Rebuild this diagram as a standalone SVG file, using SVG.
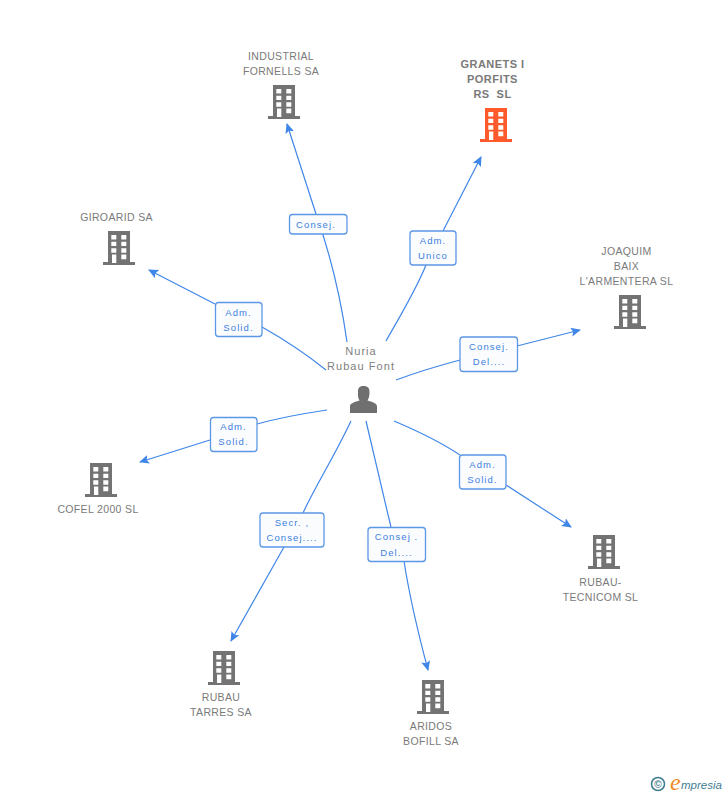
<svg xmlns="http://www.w3.org/2000/svg" xmlns:xlink="http://www.w3.org/1999/xlink" width="728" height="795" viewBox="0 0 728 795">
<style>
text{font-family:"Liberation Sans",Arial,sans-serif}
.n{font-size:10.5px;fill:#7a7a7a;text-anchor:middle;letter-spacing:.35px}
.p{font-size:11px;letter-spacing:1.05px;fill:#808080}
.b{font-weight:bold;font-size:11px;letter-spacing:.45px}
.c{fill:none;stroke:#3f86e8;stroke-width:1.2}
.l{fill:#fbfcfe;stroke:#5c97e6;stroke-width:1.3}
.t{font-size:9.5px;fill:#3c7fe0;text-anchor:middle;letter-spacing:1.1px}
</style>
<defs>
<marker id="ah" markerUnits="userSpaceOnUse" markerWidth="12" markerHeight="10" refX="9" refY="4.5" orient="auto"><path d="M0 0L10 4.5L0 9L2 4.5Z" fill="#3f86e8"/></marker>
<symbol id="bld" width="32" height="34" viewBox="0 0 32 34" overflow="visible">
<path fill="currentColor" fill-rule="evenodd" d="M5 0H27V31H32V34H0V31H5ZM8.300 4V8.500H13.300V4ZM18.300 4V8.500H23.300V4ZM8.300 10.700V15H13.300V10.700ZM18.300 10.700V15H23.300V10.700ZM8.300 17.300V21.700H13.300V17.300ZM18.300 17.300V21.700H23.300V17.300ZM9 23.500V32H13.300V23.500ZM18.300 23.500V28.300H23.300V23.500Z"/>
</symbol>
</defs>
<rect width="728" height="795" fill="#fff"/>
<g id="connectors">
<path class="c" marker-end="url(#ah)" d="M347 342C339 285 327 245 316 214M316 214L287 124"/>
<path class="c" marker-end="url(#ah)" d="M386 341C400 316 415 292 426 265M443 231L481 157"/>
<path class="c" marker-end="url(#ah)" d="M396 380C420 371 445 364 460 360M517 346L580 330"/>
<path class="c" marker-end="url(#ah)" d="M326 370C305 353 285 340 262 327M215 304L149 270"/>
<path class="c" marker-end="url(#ah)" d="M327 410C300 414 275 419 257 424M210 440L140 462"/>
<path class="c" marker-end="url(#ah)" d="M394 421C420 432 445 445 460 455M506 485L571 527"/>
<path class="c" marker-end="url(#ah)" d="M351 421C335 455 315 487 303 513M284 547L231 641"/>
<path class="c" marker-end="url(#ah)" d="M366 421C373 450 382 490 391 527M404 561C410 600 420 640 428 670"/>
</g>
<g id="center"><text class="n p" x="361" y="355">Nuria</text><text class="n p" x="361" y="370">Rubau Font</text>
<path fill="#6f6f6f" d="M350 413V406.500C350 403.500 353 402.500 359.500 400.500C357.500 397.500 358 394 358 391.500C358 387.500 360 386 363.500 386C367 386 369.500 387.500 369.500 391.500C369.500 394 369.500 397.500 367.500 400.500C374 402.500 377 403.500 377 406.500V413Z"/></g>
<g id="n1" color="#737373"><text class="n" x="281" y="60">INDUSTRIAL</text><text class="n" x="281" y="75">FORNELLS SA</text><use xlink:href="#bld" href="#bld" x="268" y="85"/></g>
<g id="n2" color="#ff5a2c"><text class="n b" x="492.500" y="68">GRANETS I</text><text class="n b" x="492.500" y="83">PORFITS</text><text class="n b" x="492.500" y="98" xml:space="preserve" style="white-space:pre">RS  SL</text><use xlink:href="#bld" href="#bld" x="480" y="108"/></g>
<g id="n3" color="#737373"><text class="n" x="116.500" y="221">GIROARID SA</text><use xlink:href="#bld" href="#bld" x="103" y="231"/></g>
<g id="n4" color="#737373"><text class="n" x="626.500" y="255">JOAQUIM</text><text class="n" x="626.500" y="270">BAIX</text><text class="n" x="626.500" y="285">L'ARMENTERA SL</text><use xlink:href="#bld" href="#bld" x="614" y="295"/></g>
<g id="n5" color="#737373"><text class="n" x="98" y="513">COFEL 2000 SL</text><use xlink:href="#bld" href="#bld" x="85" y="463"/></g>
<g id="n6" color="#737373"><text class="n" x="600.500" y="586">RUBAU-</text><text class="n" x="600.500" y="601">TECNICOM SL</text><use xlink:href="#bld" href="#bld" x="588" y="535"/></g>
<g id="n7" color="#737373"><text class="n" x="221" y="701">RUBAU</text><text class="n" x="221" y="716">TARRES SA</text><use xlink:href="#bld" href="#bld" x="208" y="651"/></g>
<g id="n8" color="#737373"><text class="n" x="431" y="730">ARIDOS</text><text class="n" x="431" y="745">BOFILL SA</text><use xlink:href="#bld" href="#bld" x="417" y="680"/></g>
<g id="labels">
<g><rect class="l" x="289.500" y="214.500" width="57.500" height="19.500" rx="3"/><text class="t" x="316" y="228">Consej.</text></g>
<g><rect class="l" x="410" y="231" width="46" height="34" rx="3"/><text class="t" x="433" y="244">Adm.</text><text class="t" x="433" y="259">Unico</text></g>
<g><rect class="l" x="460" y="337" width="57.500" height="34.500" rx="3"/><text class="t" x="489" y="350">Consej.</text><text class="t" x="489" y="365">Del....</text></g>
<g><rect class="l" x="215.500" y="302.500" width="46.500" height="34" rx="3"/><text class="t" x="238.500" y="316">Adm.</text><text class="t" x="238.500" y="331">Solid.</text></g>
<g><rect class="l" x="210.500" y="417.500" width="46.500" height="34" rx="3"/><text class="t" x="233.500" y="430">Adm.</text><text class="t" x="233.500" y="445">Solid.</text></g>
<g><rect class="l" x="459.500" y="455" width="46.500" height="34" rx="3"/><text class="t" x="482.500" y="468">Adm.</text><text class="t" x="482.500" y="483">Solid.</text></g>
<g><rect class="l" x="260" y="513" width="64" height="34" rx="3"/><text class="t" x="292" y="526">Secr. ,</text><text class="t" x="292" y="541">Consej....</text></g>
<g><rect class="l" x="368" y="527.500" width="57.500" height="34" rx="3"/><text class="t" x="396.500" y="540">Consej .</text><text class="t" x="396.500" y="556">Del....</text></g>
</g>
<g id="logo"><circle cx="658" cy="784" r="6.500" fill="none" stroke="#3f7d92" stroke-width="1.600"/><text x="658" y="787.500" font-size="10" font-weight="bold" fill="#3f7d92" text-anchor="middle">©</text>
<text x="670" y="790" font-size="24" font-style="italic" fill="#f28a1e" style="font-family:'Liberation Serif',serif">e</text><text x="681" y="789" font-size="11.500" font-style="italic" fill="#3f7d92">mpresia</text></g>
</svg>
